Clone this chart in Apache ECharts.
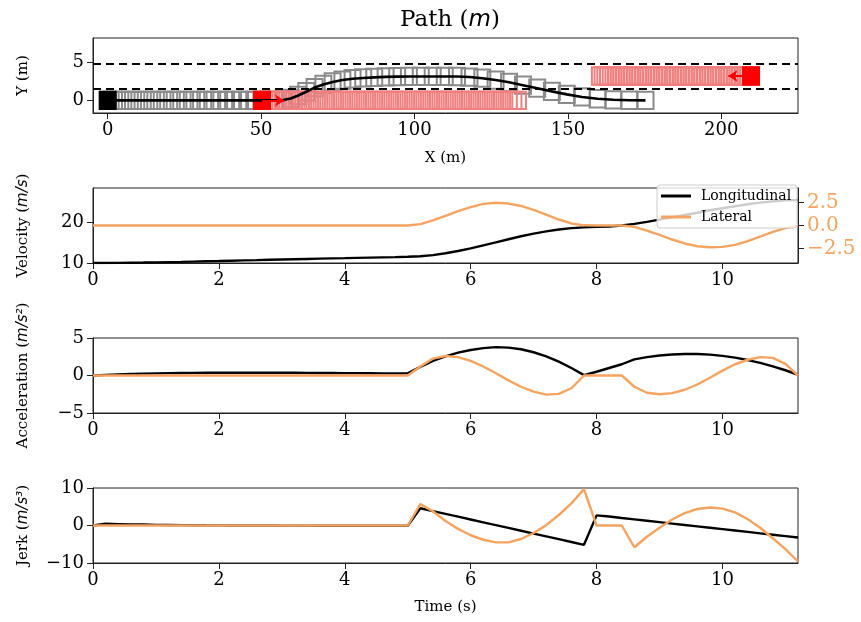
<!DOCTYPE html>
<html><head><meta charset="utf-8">
<script src="https://cdn.jsdelivr.net/npm/echarts@6/dist/echarts.min.js"></script>
<style>html,body{margin:0;padding:0;background:#fff}#c{width:861px;height:622px}</style>
</head><body><div id="c"></div>
<script>
// ---------- data ----------
const time = [0,0.2,0.4,0.6,0.8,1,1.2,1.4,1.6,1.8,2,2.2,2.4,2.6,2.8,3,3.2,3.4,3.6,3.8,4,4.2,4.4,4.6,4.8,5,5.2,5.4,5.6,5.8,6,6.2,6.4,6.6,6.8,7,7.2,7.4,7.6,7.8,8,8.2,8.4,8.6,8.8,9,9.2,9.4,9.6,9.8,10,10.2,10.4,10.6,10.8,11,11.2];

const lonVel = [10.0,10.01,10.03,10.07,10.11,10.16,10.22,10.28,10.35,10.42,10.49,10.57,10.64,10.71,10.79,10.86,10.93,11.0,11.07,11.14,11.2,11.27,11.33,11.39,11.45,
  11.55,11.68,11.95,12.4,12.95,13.6,14.35,15.1,15.85,16.6,17.25,17.8,18.25,18.6,18.8,18.9,19.0,19.25,19.65,20.15,20.7,21.25,21.85,22.4,23.0,23.5,24.0,24.5,24.9,25.2,25.45,25.55];
const latVel = [0,0,0,0,0,0,0,0,0,0,0,0,0,0,0,0,0,0,0,0,0,0,0,0,0,
  0,0.15,0.55,1.05,1.55,2.0,2.35,2.47,2.38,2.12,1.7,1.18,0.65,0.22,0.02,0,0,0,-0.15,-0.55,-1.03,-1.52,-1.95,-2.25,-2.36,-2.32,-2.1,-1.7,-1.2,-0.7,-0.28,-0.02];

const lonAcc = [0,0.08,0.15,0.2,0.25,0.28,0.31,0.33,0.35,0.36,0.37,0.37,0.37,0.37,0.37,0.36,0.36,0.35,0.34,0.33,0.32,0.31,0.3,0.29,0.28,
  0.28,1.15,1.95,2.55,3.05,3.4,3.65,3.78,3.72,3.5,3.1,2.55,1.85,1.0,0.05,0.5,1.0,1.5,2.15,2.45,2.66,2.8,2.86,2.86,2.78,2.62,2.38,2.06,1.68,1.22,0.7,0.1];
const latAcc = [0,0,0,0,0,0,0,0,0,0,0,0,0,0,0,0,0,0,0,0,0,0,0,0,0,
  0,1.2,2.25,2.6,2.45,1.95,1.2,0.3,-0.65,-1.5,-2.15,-2.55,-2.45,-1.7,0,0,0,0,-1.5,-2.3,-2.5,-2.35,-1.9,-1.2,-0.3,0.65,1.5,2.1,2.45,2.35,1.55,0];

const lonJerk = [0,0.45,0.38,0.3,0.25,0.18,0.14,0.1,0.08,0.05,0.03,0.01,0,0,-0.01,-0.02,-0.03,-0.04,-0.05,-0.05,-0.05,-0.05,-0.05,-0.05,-0.05,
  -0.05,4.6,3.85,3.1,2.35,1.6,0.85,0.1,-0.65,-1.4,-2.15,-2.9,-3.65,-4.4,-5.15,2.7,2.4,2.0,1.63,1.26,0.89,0.51,0.14,-0.23,-0.6,-0.97,-1.34,-1.71,-2.09,-2.46,-2.83,-3.2];
const latJerk = [0,0,0,0,0,0,0,0,0,0,0,0,0,0,0,0,0,0,0,0,0,0,0,0,0,
  0,5.7,3.8,1.2,-0.9,-2.6,-3.8,-4.5,-4.5,-3.6,-2.0,0.1,2.8,5.9,9.7,0,0,0,-5.8,-3.0,-0.6,1.6,3.3,4.4,4.8,4.5,3.5,1.7,-0.6,-3.4,-6.3,-9.6];

// path (m)
const egoX = [0,2.05,4.1,6.16,8.23,10.31,12.4,14.5,16.62,18.75,20.89,23.05,25.23,27.41,29.61,31.84,34.07,36.32,38.58,40.86,43.14,45.45,47.77,50.09,52.44,
  54.8,57.18,59.61,62.1,64.71,67.42,70.29,73.31,76.49,79.81,83.28,86.87,90.57,94.34,98.17,102.04,105.92,109.85,113.84,117.92,122.1,126.43,130.82,135.35,140.0,144.77,149.64,154.61,159.67,164.81,170.0,175.3];
const egoY = [0,0,0,0,0,0,0,0,0,0,0,0,0,0,0,0,0,0,0,0,0,0,0,0,0,
  0,0.05,0.25,0.65,1.15,1.7,2.12,2.45,2.7,2.87,2.98,3.06,3.12,3.16,3.18,3.18,3.18,3.18,3.17,3.1,2.95,2.7,2.4,2.02,1.62,1.2,0.8,0.46,0.22,0.08,0.02,0];
const leadX = [50.3,51.79,53.28,54.77,56.26,57.75,59.24,60.73,62.22,63.71,65.2,66.69,68.18,69.67,71.16,72.65,74.14,75.63,77.12,78.61,80.1,81.59,83.08,84.57,86.06,
  87.55,89.04,90.53,92.02,93.51,95.0,96.49,97.98,99.47,100.96,102.45,103.94,105.43,106.92,108.41,109.9,111.39,112.88,114.37,115.86,117.35,118.84,120.33,121.82,123.31,124.8,126.29,127.78,129.27,130.76,132.25,133.74];
const leadLaneY = 0;
const oncX = [209.7,208.82,207.94,207.06,206.18,205.3,204.42,203.54,202.66,201.78,200.9,200.02,199.14,198.26,197.38,196.5,195.62,194.74,193.86,192.98,192.1,191.22,190.34,189.46,188.58,
  187.7,186.82,185.94,185.06,184.18,183.3,182.42,181.54,180.66,179.78,178.9,178.02,177.14,176.26,175.38,174.5,173.62,172.74,171.86,170.98,170.1,169.22,168.34,167.46,166.58,165.7,164.82,163.94,163.06,162.18,161.3,160.42];
const oncLaneY = 3.24;
const laneLines = [1.6, 4.8];
const leadArrow = [[50.3, 0], [57.5, 0]];
const oncArrow = [[209.7, 3.24], [202.3, 3.24]];

const pathXTicks = [0, 50, 100, 150, 200];
const pathYTicks = [0, 5];
const timeTicks = [0, 2, 4, 6, 8, 10];
const velTicks = [10, 20];
const latVelTicks = [-2.5, 0, 2.5];
const accTicks = [-5, 0, 5];
const jerkTicks = [-10, 0, 10];

// ---------- styling ----------
const VEH_L = 5.2, VEH_W = 2.3;
const SERIF = 'DejaVu Serif';
const ORANGE = '#f4a460';
const AXC = '#222';
const TICK_FS = 18;
const NAME_FS = 15;

const pair = (xs, ys) => xs.map((x, i) => [x, ys[i]]);
const minus = v => String(v).replace('-', '\u2212');

function rectSeries(xs, yOf, style, z) {
  return {
    type: 'custom', xAxisIndex: 0, yAxisIndex: 0, z: z, silent: true,
    data: xs.map((x, i) => [x, yOf(i)]),
    renderItem: function (params, api) {
      const cx = api.value(0), cy = api.value(1);
      const p0 = api.coord([cx - VEH_L / 2, cy + VEH_W / 2]);
      const p1 = api.coord([cx + VEH_L / 2, cy - VEH_W / 2]);
      return { type: 'rect', shape: { x: p0[0], y: p0[1], width: p1[0] - p0[0], height: p1[1] - p0[1] }, style: style };
    }
  };
}

const nameRich = {
  a: { fontFamily: SERIF, fontSize: NAME_FS, color: '#000' },
  i: { fontFamily: 'DejaVu Sans', fontStyle: 'italic', fontSize: NAME_FS, color: '#000' }
};

function xAx(grid, min, max, ticks, name, gap) {
  return {
    type: 'value', gridIndex: grid, min: min, max: max,
    axisLine: { show: true, onZero: false, lineStyle: { color: AXC, width: 1 } },
    axisTick: { show: true, length: 6, customValues: ticks, lineStyle: { color: AXC } },
    axisLabel: { customValues: ticks, margin: 8, fontFamily: SERIF, fontSize: TICK_FS, color: '#000', formatter: minus },
    splitLine: { show: false },
    name: name || '', nameLocation: 'middle', nameGap: gap || 38,
    nameTextStyle: { fontFamily: SERIF, fontSize: NAME_FS, color: '#000', rich: nameRich }
  };
}
function yAx(grid, min, max, ticks, name) {
  return {
    type: 'value', gridIndex: grid, min: min, max: max,
    axisLine: { show: true, onZero: false, lineStyle: { color: AXC, width: 1 } },
    axisTick: { show: true, length: 6, customValues: ticks, lineStyle: { color: AXC } },
    axisLabel: { customValues: ticks, margin: 9, fontFamily: SERIF, fontSize: TICK_FS, color: '#000', formatter: minus },
    splitLine: { show: false },
    name: name, nameLocation: 'middle', nameGap: 62,
    nameTextStyle: { rich: nameRich }
  };
}

const gridBase = { left: 93, right: 63, height: 75, show: true, borderColor: AXC, borderWidth: 1, backgroundColor: 'transparent' };

const option = {
  animation: false,
  backgroundColor: '#fff',
  title: {
    text: '{a|Path (}{i|m}{a|)}', left: 445, top: 4, textAlign: 'center',
    textStyle: { fontWeight: 'normal', rich: {
      a: { fontFamily: SERIF, fontSize: 23, fontWeight: 'normal', color: '#000' },
      i: { fontFamily: 'DejaVu Sans', fontStyle: 'italic', fontWeight: 'normal', fontSize: 23, color: '#000' }
    } }
  },
  legend: {
    data: ['Longitudinal', 'Lateral'], orient: 'vertical', left: 657, top: 185,
    icon: 'rect', itemWidth: 30, itemHeight: 3, itemGap: 7,
    backgroundColor: 'rgba(255,255,255,0.8)', borderColor: '#cccccc', borderWidth: 1, borderRadius: 3,
    padding: [4, 6, 4, 4],
    textStyle: { fontFamily: SERIF, fontSize: 14, color: '#000', padding: [0, 0, 0, 5] }
  },
  grid: [
    Object.assign({}, gridBase, { top: 38 }),
    Object.assign({}, gridBase, { top: 188 }),
    Object.assign({}, gridBase, { top: 338 }),
    Object.assign({}, gridBase, { top: 488 })
  ],
  xAxis: [
    xAx(0, -4.8, 225, pathXTicks, 'X (m)', 38),
    xAx(1, 0, 11.2, timeTicks),
    xAx(2, 0, 11.2, timeTicks),
    xAx(3, 0, 11.2, timeTicks, 'Time (s)', 37)
  ],
  yAxis: [
    yAx(0, -1.67, 8.28, pathYTicks, '{a|Y (m)}'),
    yAx(1, 10, 28.5, velTicks, '{a|Velocity (}{i|m/s}{a|)}'),
    {
      type: 'value', gridIndex: 1, position: 'right', min: -4.07, max: 4.07,
      axisLine: { show: true, onZero: false, lineStyle: { color: AXC } },
      axisTick: { show: true, length: 6, customValues: latVelTicks, lineStyle: { color: AXC } },
      axisLabel: { customValues: latVelTicks, margin: 9, fontFamily: SERIF, fontSize: 20, color: ORANGE,
        formatter: v => minus(Number(v).toFixed(1)) },
      splitLine: { show: false }
    },
    yAx(2, -5, 5, accTicks, '{a|Acceleration (}{i|m/s\u00b2}{a|)}'),
    yAx(3, -10, 10, jerkTicks, '{a|Jerk (}{i|m/s\u00b3}{a|)}')
  ],
  series: [
    // vehicle footprints
    rectSeries(egoX, i => egoY[i], { fill: 'none', stroke: '#8a8a8a', lineWidth: 2 }, 2),
    rectSeries(leadX, i => leadLaneY, { fill: 'none', stroke: '#f08080', lineWidth: 2 }, 3),
    rectSeries(oncX, i => oncLaneY, { fill: 'none', stroke: '#f08080', lineWidth: 2 }, 3),
    rectSeries(egoX.slice(0, 1), i => egoY[0], { fill: '#000', stroke: '#000', lineWidth: 2 }, 4),
    rectSeries(leadX.slice(0, 1), i => leadLaneY, { fill: '#ff0000', stroke: '#ff0000', lineWidth: 2 }, 4),
    rectSeries(oncX.slice(0, 1), i => oncLaneY, { fill: '#ff0000', stroke: '#ff0000', lineWidth: 2 }, 4),
    // ego path + lane lines
    {
      type: 'line', xAxisIndex: 0, yAxisIndex: 0, z: 5, data: pair(egoX, egoY), showSymbol: false,
      lineStyle: { color: '#000', width: 2.6 }, itemStyle: { color: '#000' }, silent: true,
      markLine: { silent: true, symbol: 'none', label: { show: false },
        lineStyle: { color: '#000', width: 2.2, type: [8, 5] },
        data: laneLines.map(v => ({ yAxis: v })) }
    },
    {
      type: 'lines', coordinateSystem: 'cartesian2d', xAxisIndex: 0, yAxisIndex: 0, z: 6,
      symbol: ['none', 'arrow'], symbolSize: 9,
      lineStyle: { color: '#ff0000', width: 2, opacity: 1 },
      data: [{ coords: leadArrow }, { coords: oncArrow }]
    },
    // velocity
    { name: 'Longitudinal', type: 'line', xAxisIndex: 1, yAxisIndex: 1, data: pair(time, lonVel), showSymbol: false,
      color: '#000', lineStyle: { color: '#000', width: 2.4 } },
    { name: 'Lateral', type: 'line', xAxisIndex: 1, yAxisIndex: 2, data: pair(time, latVel), showSymbol: false,
      color: ORANGE, lineStyle: { color: ORANGE, width: 2.4 } },
    // acceleration
    { name: 'acc_lon', type: 'line', xAxisIndex: 2, yAxisIndex: 3, data: pair(time, lonAcc), showSymbol: false,
      lineStyle: { color: '#000', width: 2.4 } },
    { name: 'acc_lat', type: 'line', xAxisIndex: 2, yAxisIndex: 3, data: pair(time, latAcc), showSymbol: false,
      lineStyle: { color: ORANGE, width: 2.4 } },
    // jerk
    { name: 'jerk_lon', type: 'line', xAxisIndex: 3, yAxisIndex: 4, data: pair(time, lonJerk), showSymbol: false,
      lineStyle: { color: '#000', width: 2.4 } },
    { name: 'jerk_lat', type: 'line', xAxisIndex: 3, yAxisIndex: 4, data: pair(time, latJerk), showSymbol: false,
      lineStyle: { color: ORANGE, width: 2.4 } }
  ]
};

const chart = echarts.init(document.getElementById('c'), null, { renderer: 'canvas' });
chart.setOption(option);
</script>
</body></html>
